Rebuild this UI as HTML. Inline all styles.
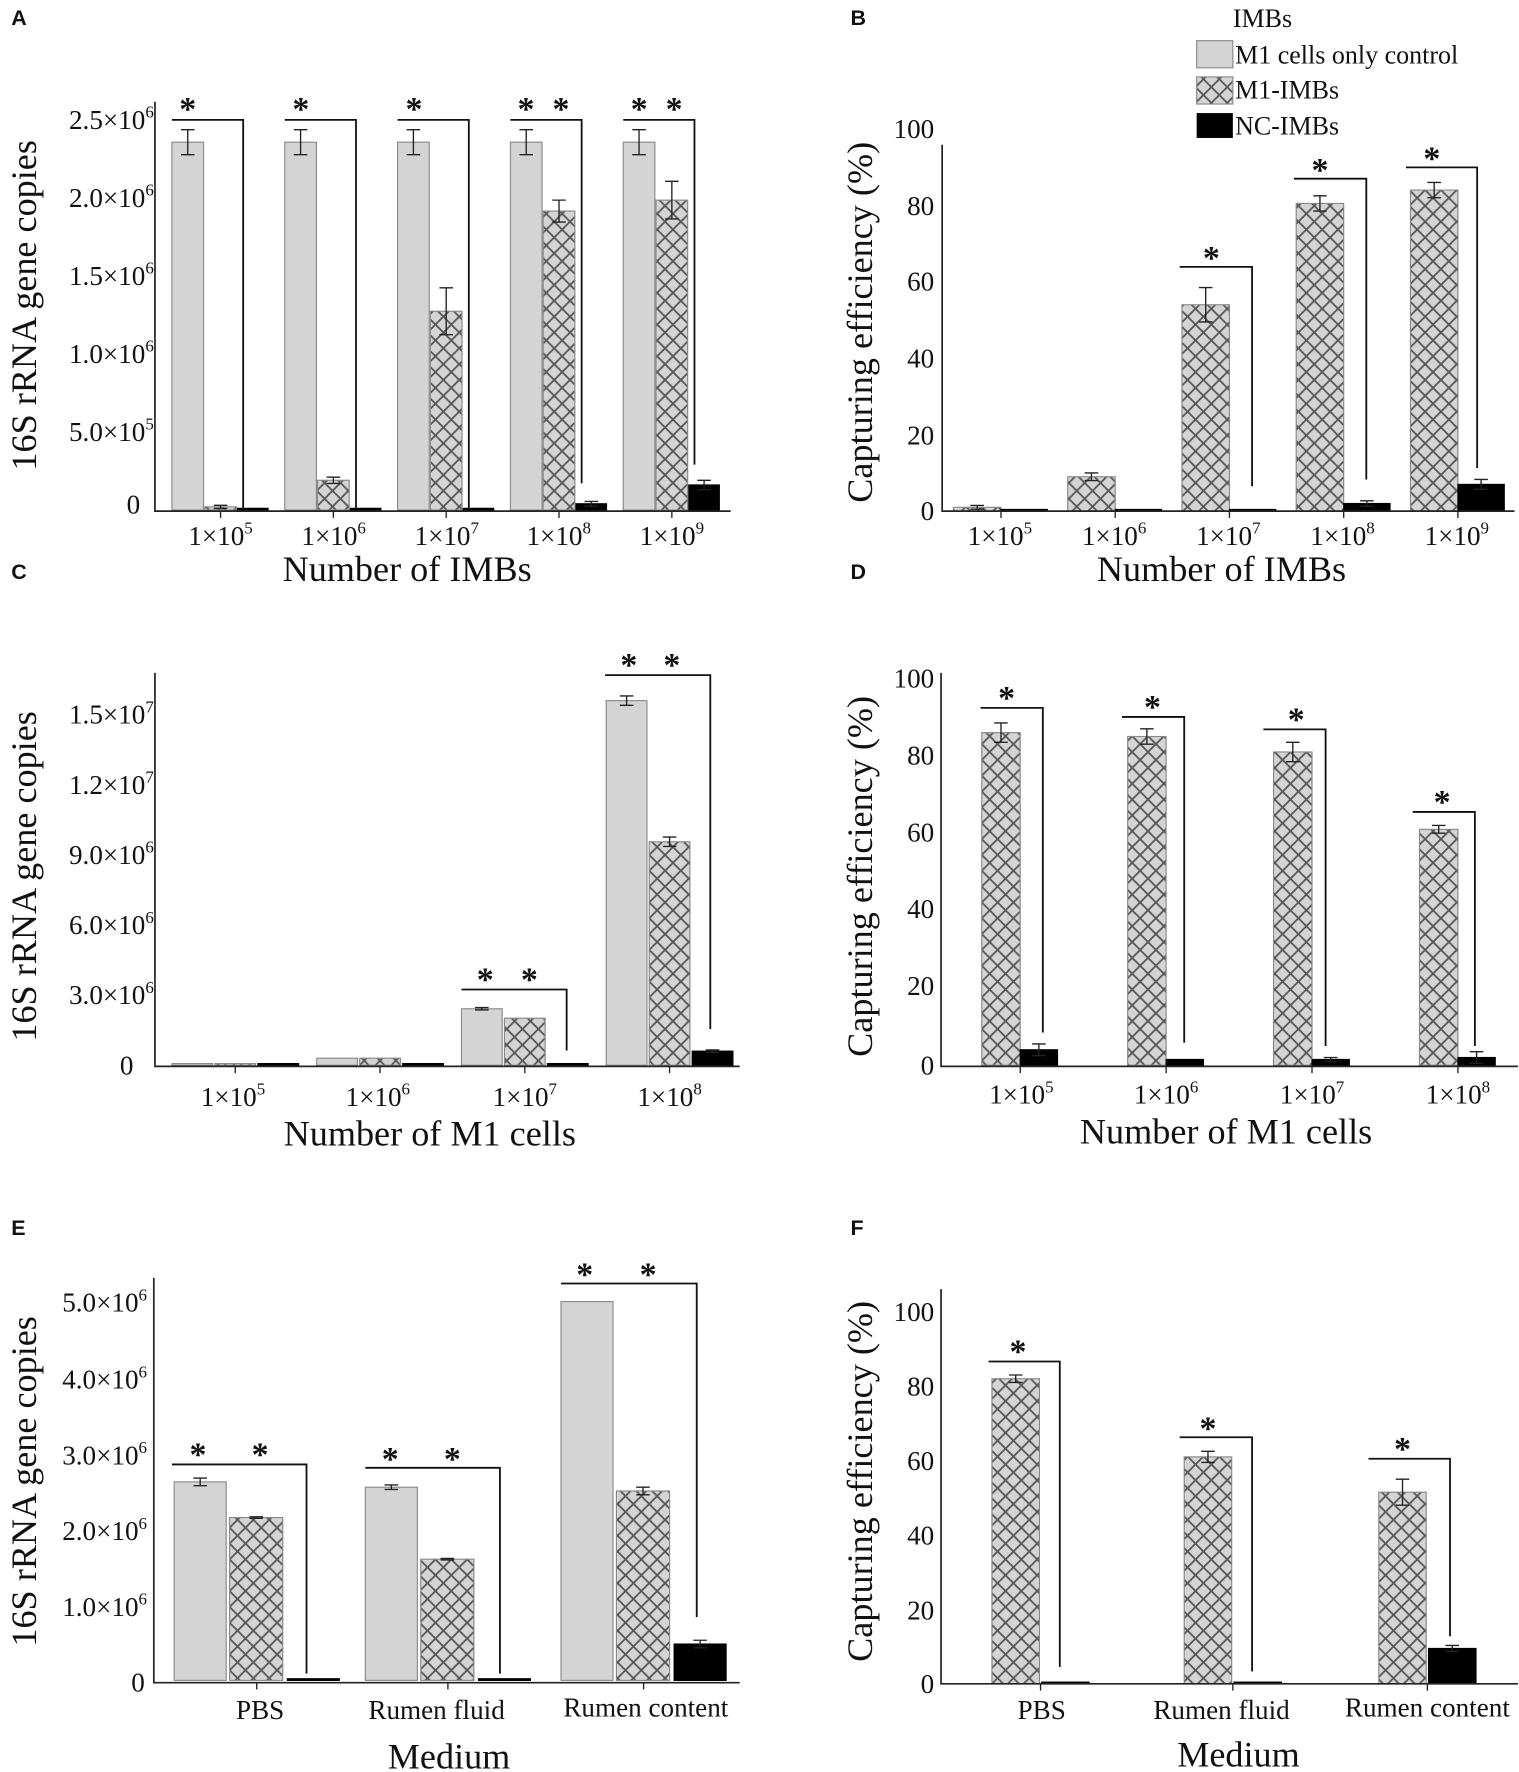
<!DOCTYPE html>
<html><head><meta charset="utf-8"><style>
html,body{margin:0;padding:0;background:#fff}
svg{display:block}
text{font-family:"Liberation Serif",serif;fill:#111}
.t{font-size:24px}
.ax{font-size:32px}
.st{font-size:30px;font-weight:bold}
.L{font-family:"Liberation Sans",sans-serif;font-weight:bold;font-size:19px}
</style></head><body>
<svg id="s" width="1519" height="1772" viewBox="0 0 1343 1567" preserveAspectRatio="none" xmlns="http://www.w3.org/2000/svg">
<defs>
<pattern id="h" width="14" height="14" patternUnits="userSpaceOnUse">
<rect width="14" height="14" fill="#d4d4d4"/>
<path d="M0,0L14,14M14,0L0,14" stroke="#555" stroke-width="1.6"/>
</pattern>
</defs>
<g id="bars"></g>
<g stroke="#222" stroke-width="1.5" fill="none">
<path d="M137,90V452H646"/>
<path d="M833,128V452H1339"/>
<path d="M137,595V943H654"/>
<path d="M832,595V943H1342"/>
<path d="M136,1130V1488H654"/>
<path d="M832,1140V1489H1342"/>
</g>
<!-- Letters -->
<text class="L" x="10" y="22">A</text><text class="L" x="752" y="22">B</text>
<text class="L" x="10" y="512">C</text><text class="L" x="752" y="512">D</text>
<text class="L" x="10" y="1092">E</text><text class="L" x="752" y="1092">F</text>
<!-- A -->
<g class="t" text-anchor="end">
<text x="136" y="114">2.5×10<tspan font-size="15" dy="-10">6</tspan></text>
<text x="136" y="183">2.0×10<tspan font-size="15" dy="-10">6</tspan></text>
<text x="136" y="252">1.5×10<tspan font-size="15" dy="-10">6</tspan></text>
<text x="136" y="321">1.0×10<tspan font-size="15" dy="-10">6</tspan></text>
<text x="136" y="390">5.0×10<tspan font-size="15" dy="-10">5</tspan></text>
<text x="124" y="454">0</text>
</g>
<g class="t" text-anchor="middle">
<text x="195" y="482">1×10<tspan font-size="15" dy="-10">5</tspan></text>
<text x="295" y="482">1×10<tspan font-size="15" dy="-10">6</tspan></text>
<text x="395" y="482">1×10<tspan font-size="15" dy="-10">7</tspan></text>
<text x="494" y="482">1×10<tspan font-size="15" dy="-10">8</tspan></text>
<text x="594" y="482">1×10<tspan font-size="15" dy="-10">9</tspan></text>
</g>
<text class="ax" x="360" y="514" text-anchor="middle">Number of IMBs</text>
<text class="ax" transform="translate(32,270) rotate(-90)" text-anchor="middle">16S rRNA gene copies</text>
<!-- B -->
<g class="t" text-anchor="end">
<text x="826" y="122">100</text><text x="826" y="190">80</text><text x="826" y="257">60</text>
<text x="826" y="325">40</text><text x="826" y="393">20</text><text x="826" y="460">0</text>
</g>
<g class="t" text-anchor="middle">
<text x="884" y="482">1×10<tspan font-size="15" dy="-10">5</tspan></text>
<text x="985" y="482">1×10<tspan font-size="15" dy="-10">6</tspan></text>
<text x="1086" y="482">1×10<tspan font-size="15" dy="-10">7</tspan></text>
<text x="1187" y="482">1×10<tspan font-size="15" dy="-10">8</tspan></text>
<text x="1288" y="482">1×10<tspan font-size="15" dy="-10">9</tspan></text>
</g>
<text class="ax" x="1080" y="514" text-anchor="middle">Number of IMBs</text>
<text class="ax" transform="translate(771,285) rotate(-90)" text-anchor="middle">Capturing efficiency (%)</text>
<text x="1090" y="24" style="font-size:23px">IMBs</text>
<rect x="1058" y="36" width="32" height="24" fill="#d4d4d4" stroke="#888"/>
<rect x="1058" y="68" width="32" height="24" fill="url(#h)" stroke="#888"/>
<rect x="1058" y="100" width="32" height="22" fill="#000"/>
<text x="1092" y="56" style="font-size:23px">M1 cells only control</text>
<text x="1092" y="87" style="font-size:23px">M1-IMBs</text>
<text x="1092" y="119" style="font-size:23px">NC-IMBs</text>
<!-- C -->
<g class="t" text-anchor="end">
<text x="136" y="640">1.5×10<tspan font-size="15" dy="-10">7</tspan></text>
<text x="136" y="702">1.2×10<tspan font-size="15" dy="-10">7</tspan></text>
<text x="136" y="764">9.0×10<tspan font-size="15" dy="-10">6</tspan></text>
<text x="136" y="826">6.0×10<tspan font-size="15" dy="-10">6</tspan></text>
<text x="136" y="888">3.0×10<tspan font-size="15" dy="-10">6</tspan></text>
<text x="118" y="950">0</text>
</g>
<g class="t" text-anchor="middle">
<text x="206" y="978">1×10<tspan font-size="15" dy="-10">5</tspan></text>
<text x="334" y="978">1×10<tspan font-size="15" dy="-10">6</tspan></text>
<text x="464" y="978">1×10<tspan font-size="15" dy="-10">7</tspan></text>
<text x="592" y="978">1×10<tspan font-size="15" dy="-10">8</tspan></text>
</g>
<text class="ax" x="380" y="1013" text-anchor="middle">Number of M1 cells</text>
<text class="ax" transform="translate(32,775) rotate(-90)" text-anchor="middle">16S rRNA gene copies</text>
<!-- D -->
<g class="t" text-anchor="end">
<text x="826" y="608">100</text><text x="826" y="676">80</text><text x="826" y="744">60</text>
<text x="826" y="812">40</text><text x="826" y="880">20</text><text x="826" y="950">0</text>
</g>
<g class="t" text-anchor="middle">
<text x="903" y="976">1×10<tspan font-size="15" dy="-10">5</tspan></text>
<text x="1031" y="976">1×10<tspan font-size="15" dy="-10">6</tspan></text>
<text x="1160" y="976">1×10<tspan font-size="15" dy="-10">7</tspan></text>
<text x="1289" y="976">1×10<tspan font-size="15" dy="-10">8</tspan></text>
</g>
<text class="ax" x="1084" y="1011" text-anchor="middle">Number of M1 cells</text>
<text class="ax" transform="translate(771,775) rotate(-90)" text-anchor="middle">Capturing efficiency (%)</text>
<!-- E -->
<g class="t" text-anchor="end">
<text x="130" y="1160">5.0×10<tspan font-size="15" dy="-10">6</tspan></text>
<text x="130" y="1228">4.0×10<tspan font-size="15" dy="-10">6</tspan></text>
<text x="130" y="1295">3.0×10<tspan font-size="15" dy="-10">6</tspan></text>
<text x="130" y="1362">2.0×10<tspan font-size="15" dy="-10">6</tspan></text>
<text x="130" y="1429">1.0×10<tspan font-size="15" dy="-10">6</tspan></text>
<text x="128" y="1496">0</text>
</g>
<g class="t" text-anchor="middle">
<text x="230" y="1520">PBS</text>
<text x="386" y="1520">Rumen fluid</text>
<text x="571" y="1518">Rumen content</text>
</g>
<text class="ax" x="397" y="1564" text-anchor="middle">Medium</text>
<text class="ax" transform="translate(32,1310) rotate(-90)" text-anchor="middle">16S rRNA gene copies</text>
<!-- F -->
<g class="t" text-anchor="end">
<text x="826" y="1168">100</text><text x="826" y="1234">80</text><text x="826" y="1300">60</text>
<text x="826" y="1366">40</text><text x="826" y="1432">20</text><text x="826" y="1497">0</text>
</g>
<g class="t" text-anchor="middle">
<text x="921" y="1520">PBS</text>
<text x="1080" y="1520">Rumen fluid</text>
<text x="1262" y="1518">Rumen content</text>
</g>
<text class="ax" x="1095" y="1562" text-anchor="middle">Medium</text>
<text class="ax" transform="translate(771,1310) rotate(-90)" text-anchor="middle">Capturing efficiency (%)</text>
<!-- stars -->
<g class="st" text-anchor="middle">
<text x="166" y="106">*</text><text x="266" y="106">*</text><text x="366" y="106">*</text>
<text x="465" y="106">*</text><text x="496" y="106">*</text><text x="565" y="106">*</text><text x="596" y="106">*</text>
<text x="1071" y="238">*</text><text x="1167" y="160">*</text><text x="1266" y="150">*</text>
<text x="429" y="876">*</text><text x="468" y="876">*</text><text x="556" y="598">*</text><text x="594" y="598">*</text>
<text x="890" y="627">*</text><text x="1019" y="635">*</text><text x="1146" y="646">*</text><text x="1275" y="719">*</text>
<text x="175" y="1296">*</text><text x="230" y="1296">*</text><text x="345" y="1300">*</text><text x="400" y="1300">*</text>
<text x="517" y="1137">*</text><text x="573" y="1137">*</text>
<text x="900" y="1205">*</text><text x="1068" y="1273">*</text><text x="1240" y="1291">*</text>
</g>
</svg>
<script>
var g=document.getElementById('bars'),NS='http://www.w3.org/2000/svg';
function el(n,a){var e=document.createElementNS(NS,n);for(var k in a)e.setAttribute(k,a[k]);g.appendChild(e);}
function bar(x,w,v,e,t,z,s){var top=z-v*s;var h=Math.max(z-top,1.5);
el('rect',{x:x,y:z-h,width:w,height:h,fill:t==0?'#d4d4d4':t==1?'url(#h)':'#000',stroke:t==2?'#000':'#888','stroke-width':1});
if(e>0){var c=x+w/2,a=top-e*s,b=top+e*s;el('path',{d:'M'+(c-6)+','+a+'H'+(c+6)+'M'+c+','+a+'V'+b+'M'+(c-6)+','+b+'H'+(c+6),stroke:'#222','stroke-width':1.2,fill:'none'});}}
function br(x1,x2,y,z){el('path',{d:'M'+x1+','+y+'H'+x2+'V'+z,stroke:'#111','stroke-width':1.6,fill:'none'});}
function tick(x,y){el('path',{d:'M'+x+','+y+'v6',stroke:'#222','stroke-width':1.2});}
// A
var zA=451,sA=138.4,gA=[.02,.19,1.27,1.91,1.98],eA=[.01,.02,.15,.07,.12],kA=[.005,.005,.005,.04,.16],keA=[0,0,0,.015,.03];
for(var i=0;i<5;i++){var x=152+99.75*i;bar(x,28,2.35,.08,0,zA,sA);bar(x+29,28,gA[i],eA[i],1,zA,sA);bar(x+58,27,kA[i],keA[i],2,zA,sA);tick(x+43,452);br(x,x+63,106,i<3?449:zA-kA[i]*sA-18);}
// B
var zB=452,sB=3.38,hB=[1,9,54,80.5,84],heB=[.5,1,4.5,2,2],kB=[.2,.2,.2,2,7],keB=[0,0,0,.7,1.3];
for(var i=0;i<5;i++){var x=843+101*i;bar(x,42,hB[i],heB[i],1,zB,sB);bar(x+42,41,kB[i],keB[i],2,zB,sB);tick(x+42,452);}
br(1043,1107,236,430);br(1144,1208,158,424);br(1243,1306,148,414);
// C
var zC=942,sC=20.8,gC=[.05,.3,2.4,15.5],hC=[.05,.3,2.0,9.5],kC=[.02,.02,.05,.6];
for(var i=0;i<4;i++){var x=152+128*i;bar(x,36,gC[i],i==3?.2:(i==2?.05:0),0,zC,sC);bar(x+38,36,hC[i],i==3?.2:0,1,zC,sC);bar(x+76,36,kC[i],i==3?.05:0,2,zC,sC);tick(x+56,943);}
br(408,501,875,929);br(535,628,597,910);
// D
var zD=942,sD=3.42,hD=[86,85,81,61],heD=[2.5,2,2.5,1],kD=[4,1.5,1.5,2],keD=[1.5,0,.5,1.5];
for(var i=0;i<4;i++){var x=868+129*i;bar(x,34,hD[i],heD[i],1,zD,sD);bar(x+34,33,kD[i],keD[i],2,zD,sD);tick(x+34,943);}
br(867,922,626,913);br(992,1047,634,922);br(1117,1172,645,925);br(1249,1304,718,925);
// E
var zE=1486,sE=67,gE=[2.62,2.55,5.0],geE=[.05,.03,0],hE=[2.15,1.6,2.5],heE=[.01,.01,.05],kE=[.01,.01,.48],keE=[0,0,.05];
var xs=[154,323,496];
for(var i=0;i<3;i++){var x=xs[i];bar(x,46,gE[i],geE[i],0,zE,sE);bar(x+49,47,hE[i],heE[i],1,zE,sE);bar(x+100,46,kE[i],keE[i],2,zE,sE);tick(x+73,1488);}
br(152,271,1295,1480);br(323,442,1298,1480);br(496,616,1135,1430);
// F
var zF=1489,sF=3.29,hF=[82,61,51.5],heF=[1,1.5,3.5],kF=[.2,.2,9.5],keF=[0,0,.8];
var xf=[877,1047,1219];
for(var i=0;i<3;i++){var x=xf[i];bar(x,42,hF[i],heF[i],1,zF,sF);bar(x+44,42,kF[i],keF[i],2,zF,sF);tick(x+43,1489);}
br(874,937,1204,1474);br(1043,1107,1271,1478);br(1210,1282,1290,1447);
</script>
</body></html>
